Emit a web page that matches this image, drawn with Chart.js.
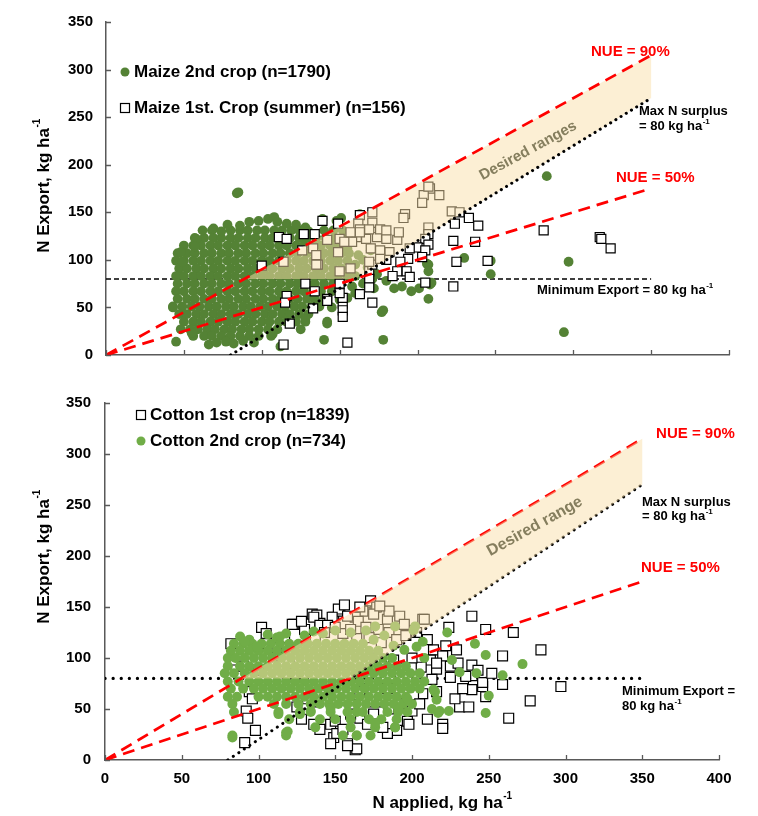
<!DOCTYPE html>
<html>
<head>
<meta charset="utf-8">
<script src="https://cdn.jsdelivr.net/npm/chart.js@4"></script>
<style>
body { margin: 0; background: #fff; }
#wrap { position: relative; width: 758px; height: 816px; }
canvas { position: absolute; left: 0; }
</style>
</head>
<body>
<div id="wrap">
  <canvas id="topChart" width="758" height="380" style="top:0"></canvas>
  <canvas id="bottomChart" width="758" height="436" style="top:380px"></canvas>
</div>
<script>
const xTickValues = [0, 50, 100, 150, 200, 250, 300, 350, 400];
const yTickValues = [0, 50, 100, 150, 200, 250, 300, 350];

// reference lines (N applied, N export)
const nue90 = [[0, 0], [350, 315]];
const nue50 = [[0, 0], [350, 175]];
const maxSurplus = [[80, 0], [350, 270]];
const minExport = [[0, 80], [350, 80]];
const desiredRange = [[88.9, 80], [160, 80], [350, 270], [350, 315], [88.9, 80]];

// Maize 2nd crop: dense cloud read row by row [N export, [N applied...]]
const maize2Rows = [
  [131, [68, 80, 86, 91, 97, 102, 108, 113, 119, 124, 140, 146, 152]],
  [123, [57, 63, 69, 74, 80, 85, 91, 96, 102, 107, 113, 118, 124, 129, 135, 141, 147, 152]],
  [115, [50, 56, 61, 67, 72, 78, 83, 89, 94, 100, 105, 111, 116, 122, 127, 133, 138, 144, 150]],
  [107, [46, 52, 57, 63, 68, 74, 79, 85, 90, 96, 101, 107, 112, 118, 123, 129, 134, 140, 145, 151, 156]],
  [99, [45, 50, 56, 61, 67, 72, 78, 83, 89, 94, 100, 105, 111, 116, 122, 127, 133, 138, 144, 149, 155]],
  [91, [47, 52, 58, 63, 69, 74, 80, 85, 91, 96, 102, 107, 113, 118, 124, 129, 135, 140, 146, 151, 157]],
  [83, [45, 50, 56, 61, 67, 72, 78, 83, 89, 94, 100, 105, 111, 116, 122, 127, 133, 138, 144, 149, 155, 160]],
  [75, [46, 52, 57, 63, 68, 74, 79, 85, 90, 96, 101, 107, 112, 118, 123, 129, 134, 140, 146, 151]],
  [67, [45, 50, 56, 61, 67, 72, 78, 83, 89, 94, 100, 105, 111, 116, 122, 127, 133, 138, 145]],
  [59, [46, 52, 57, 63, 68, 74, 79, 85, 90, 96, 101, 107, 112, 118, 123, 129, 134, 140]],
  [51, [43, 49, 55, 60, 66, 71, 77, 82, 88, 93, 99, 104, 110, 115, 121, 126, 132, 137]],
  [43, [47, 52, 58, 63, 69, 74, 80, 85, 91, 96, 102, 107, 113, 118, 124, 130]],
  [35, [50, 56, 61, 67, 72, 78, 83, 89, 94, 100, 105, 111, 116, 122, 128, 142]],
  [27, [48, 54, 59, 65, 70, 76, 81, 87, 92, 98, 104, 110, 125]],
  [20, [56, 63, 68, 74, 80, 86, 92, 98, 106]]
];
const maize2Extra = [
  [62, 131], [69, 133], [58, 122], [57, 114], [48, 108], [49, 98], [43, 50], [45, 14],
  [55, 23], [66, 11], [71, 13], [77, 14], [82, 12], [88, 15], [95, 13], [107, 22], [112, 9],
  [86, 136], [92, 140], [98, 141], [104, 143], [108, 145], [110, 140], [116, 138], [122, 137],
  [128, 134], [130, 130], [148, 141], [78, 137], [74, 130],
  [84, 170], [85, 171], [283, 188], [297, 98], [294, 24], [247, 99], [247, 85], [230, 102],
  [207, 95], [207, 59], [201, 70], [196, 67], [190, 72], [178, 47], [178, 16], [208, 74],
  [169, 88], [171, 80], [209, 76], [206, 96], [207, 88], [163, 148], [151, 144], [139, 143],
  [142, 33], [177, 45], [128, 38], [140, 16], [155, 60], [160, 65], [165, 75],
  [158, 72], [150, 58], [145, 50], [152, 45], [160, 95], [162, 105], [155, 112], [165, 100],
  [170, 110], [168, 92], [174, 85], [180, 78], [185, 70], [172, 70]
];

// Maize 1st crop (summer)
const maize1 = [
  [111, 124], [127, 127], [134, 127], [139, 141], [149, 138], [100, 94], [114, 98], [133, 112],
  [136, 95], [150, 122], [128, 75], [116, 62], [115, 55], [134, 67], [142, 59], [133, 49],
  [118, 33], [114, 11], [155, 13], [163, 147], [171, 150], [171, 139], [162, 138], [208, 175],
  [214, 168], [204, 168], [203, 160], [192, 148], [191, 144], [222, 151], [227, 150], [233, 144],
  [239, 136], [224, 138], [207, 134], [207, 127], [205, 122], [207, 116], [200, 113], [205, 110],
  [223, 120], [237, 119], [225, 98], [245, 99], [223, 72], [205, 76], [203, 103], [195, 112],
  [194, 101], [189, 98], [193, 88], [195, 82], [187, 88], [184, 83], [182, 108], [180, 100],
  [169, 88], [171, 95], [169, 80], [163, 64], [169, 71], [171, 55], [152, 54], [152, 47],
  [152, 40], [152, 60], [150, 65], [142, 57], [150, 75], [163, 132], [161, 124], [167, 122],
  [174, 124], [180, 122], [187, 121], [158, 119], [153, 119], [170, 112], [176, 110], [176, 101],
  [169, 98], [157, 91], [150, 88], [169, 132], [176, 132], [180, 131], [188, 129], [163, 129],
  [142, 121], [126, 110], [135, 105], [135, 95], [149, 108], [157, 129], [281, 131], [317, 124],
  [318, 122], [324, 112], [207, 177], [116, 122]
];

// Cotton 2nd crop: dense cloud rows [N export, [N applied...]]
const cotton2Rows = [
  [114, [84, 90, 96, 102, 108, 114, 120, 126, 132, 138, 144, 150, 156, 162, 168]],
  [107, [82, 88, 94, 100, 106, 112, 118, 124, 130, 136, 142, 148, 154, 160, 166, 172, 178]],
  [100, [80, 85, 91, 97, 103, 109, 115, 121, 127, 133, 139, 145, 151, 157, 163, 169, 175, 181, 187]],
  [92, [80, 88, 94, 100, 106, 112, 118, 124, 130, 136, 142, 148, 154, 160, 166, 172, 178, 184, 190, 196]],
  [85, [78, 84, 91, 97, 103, 109, 115, 121, 127, 133, 139, 145, 151, 157, 163, 169, 175, 181, 187, 193, 199, 205]],
  [77, [80, 87, 94, 100, 106, 112, 118, 124, 130, 136, 142, 148, 154, 160, 166, 172, 178, 184, 190, 196, 202, 208]],
  [70, [82, 90, 97, 103, 109, 115, 121, 127, 133, 139, 145, 151, 157, 163, 169, 175, 181, 187, 193, 199, 205]],
  [62, [80, 86, 100, 106, 112, 118, 124, 130, 136, 142, 148, 154, 160, 166, 172, 178, 184, 190, 196]],
  [55, [83, 110, 118, 126, 134, 140, 146, 152, 158, 164, 170, 176, 182, 188, 194, 200]],
  [47, [84, 113, 127, 134, 147, 158, 164, 168, 184, 191, 197]],
  [40, [120, 140, 150, 160, 172, 180, 190]],
  [32, [137, 160, 176, 189]],
  [24, [83, 118, 155, 164, 173]]
];
const cotton2Extra = [
  [88, 121], [94, 118], [106, 123], [112, 120], [118, 124], [130, 122], [136, 126], [142, 124],
  [150, 127], [160, 125], [175, 118], [182, 122], [188, 112], [170, 127],
  [83, 22], [91, 116], [114, 121], [99, 111], [113, 45], [119, 28], [223, 125], [241, 114],
  [248, 103], [272, 94], [259, 83], [250, 63], [248, 46], [242, 85], [231, 86], [226, 98],
  [214, 69], [216, 59], [218, 48], [213, 50], [224, 48], [207, 116], [202, 131], [189, 131],
  [176, 131], [195, 108], [203, 111], [208, 100], [118, 27], [164, 24], [189, 32], [176, 36],
  [134, 48], [127, 45], [147, 51], [191, 50], [197, 60], [217, 46], [215, 67], [201, 127]
];

// Cotton 1st crop
const cotton1 = [
  [82, 114], [102, 130], [105, 124], [105, 114], [123, 133], [135, 143], [138, 142], [140, 134],
  [149, 140], [153, 146], [173, 154], [176, 150], [83, 98], [92, 48], [93, 41], [98, 29],
  [91, 17], [94, 67], [96, 60], [122, 133], [152, 148], [148, 140], [136, 140], [140, 132],
  [173, 156], [177, 150], [168, 146], [163, 140], [184, 138], [192, 141], [207, 138], [199, 127],
  [164, 119], [155, 124], [158, 141], [165, 136], [170, 130], [178, 128], [185, 125], [190, 118],
  [196, 122], [180, 115], [172, 120], [160, 128], [145, 132], [130, 128], [156, 152], [166, 150],
  [175, 143], [185, 146], [195, 133], [203, 125], [150, 130], [143, 125], [137, 120], [128, 136],
  [117, 120], [110, 102], [112, 110], [95, 105], [90, 92], [100, 88], [120, 95], [239, 141],
  [224, 130], [248, 128], [266, 125], [284, 108], [259, 102], [239, 93], [297, 72], [259, 74],
  [277, 58], [263, 41], [231, 52], [237, 52], [220, 35], [220, 31], [197, 38], [225, 81],
  [229, 108], [214, 108], [208, 138], [179, 151], [240, 73], [246, 72], [248, 62], [246, 76],
  [216, 67], [216, 89], [225, 92], [212, 98], [220, 102], [190, 29], [184, 26], [181, 32],
  [207, 65], [216, 95], [239, 69], [206, 91], [213, 79], [168, 70], [173, 57], [166, 41],
  [179, 57], [184, 70], [201, 64], [136, 35], [147, 35], [149, 22], [147, 16], [158, 16],
  [163, 10], [171, 35], [198, 35], [138, 57], [162, 54], [166, 67], [150, 38], [151, 26],
  [164, 11], [158, 14], [140, 30], [128, 40], [125, 52], [132, 60], [155, 30], [160, 45],
  [175, 45], [185, 50], [192, 55], [200, 48], [205, 55], [210, 40], [228, 60], [233, 70],
  [235, 82], [243, 88], [252, 85], [230, 95], [222, 112], [210, 118], [200, 100], [195, 90],
  [186, 80], [180, 92], [188, 98], [176, 100]
];

const FONT = '"Liberation Sans", Arial, sans-serif';
Chart.defaults.font.family = FONT;

const toXY = arr => arr.map(([x, y]) => ({x, y}));
const fromRows = rows => rows.flatMap(([y, xs]) => xs.map(x => ({x, y})));

function supText(ctx, main, sup, x, y, size, align) {
  ctx.font = `bold ${size}px ${FONT}`;
  const w1 = ctx.measureText(main).width;
  const supSize = Math.round(size * 0.6);
  ctx.font = `bold ${supSize}px ${FONT}`;
  const w2 = sup ? ctx.measureText(sup).width : 0;
  const x0 = align === 'center' ? x - (w1 + w2) / 2 : x;
  ctx.textAlign = 'left';
  ctx.textBaseline = 'middle';
  ctx.font = `bold ${size}px ${FONT}`;
  ctx.fillText(main, x0, y);
  if (sup) {
    ctx.font = `bold ${supSize}px ${FONT}`;
    ctx.fillText(sup, x0 + w1 + 0.5, y - size * 0.38);
  }
}

const overlay = {
  id: 'overlay',
  afterDraw(chart, args, o) {
    const {ctx, chartArea: a} = chart;
    const xs = chart.scales.x, ys = chart.scales.y;
    ctx.save();
    // tick marks point inward
    ctx.strokeStyle = '#595959';
    ctx.lineWidth = 1.3;
    ctx.beginPath();
    xs.ticks.forEach(t => {
      const px = Math.round(xs.getPixelForValue(t.value)) + 0.5;
      ctx.moveTo(px, a.bottom);
      ctx.lineTo(px, a.bottom - 5);
    });
    ys.ticks.forEach(t => {
      const py = Math.round(ys.getPixelForValue(t.value)) + 0.5;
      ctx.moveTo(a.left, py);
      ctx.lineTo(a.left + 5, py);
    });
    ctx.stroke();

    o.labels.forEach(l => {
      ctx.fillStyle = l.color || '#000';
      const px = xs.getPixelForValue(l.x), py = ys.getPixelForValue(l.y);
      if (l.rotate) {
        ctx.save();
        ctx.translate(px, py);
        ctx.rotate(l.rotate * Math.PI / 180);
        supText(ctx, l.text, l.sup, 0, 0, l.size, 'center');
        ctx.restore();
      } else {
        supText(ctx, l.text, l.sup, px, py, l.size, 'left');
      }
    });

    o.legend.forEach(it => {
      if (it.marker === 'circle') {
        ctx.fillStyle = it.color;
        ctx.beginPath();
        ctx.arc(it.mx, it.y, 4.5, 0, Math.PI * 2);
        ctx.fill();
      } else {
        ctx.fillStyle = '#fff';
        ctx.strokeStyle = '#000';
        ctx.lineWidth = 1.2;
        ctx.fillRect(it.mx - 4.5, it.y - 4.5, 9, 9);
        ctx.strokeRect(it.mx - 4.5, it.y - 4.5, 9, 9);
      }
      ctx.fillStyle = '#000';
      supText(ctx, it.text, '', it.tx, it.y, 17, 'left');
    });

    ctx.fillStyle = '#000';
    ctx.save();
    ctx.translate(o.yTitle.x, o.yTitle.y);
    ctx.rotate(-Math.PI / 2);
    supText(ctx, 'N Export, kg ha', '-1', 0, 0, 17, 'center');
    ctx.restore();
    if (o.xTitle) supText(ctx, 'N applied, kg ha', '-1', o.xTitle.x, o.xTitle.y, 17, 'center');
    ctx.restore();
  }
};
Chart.register(overlay);

const RED = '#ff0000';
function lineDs(data, color, dash, width, order) {
  return {
    type: 'line', data: toXY(data), borderColor: color, borderDash: dash, borderWidth: width,
    borderCapStyle: dash[0] < 1 ? 'round' : 'butt', pointRadius: 0, fill: false, tension: 0, order
  };
}
function rangeDs(order) {
  return {
    type: 'line', data: toXY(desiredRange), fill: 'shape', backgroundColor: 'rgba(250,224,170,0.5)',
    borderColor: 'rgba(0,0,0,0)', borderWidth: 0, pointRadius: 0, tension: 0, order
  };
}

function scales(xLabels, xHeight, yWidth, yPad) {
  return {
    x: {
      type: 'linear', min: 0, max: 400,
      afterBuildTicks: s => { s.ticks = xTickValues.map(v => ({value: v})); },
      ticks: {display: xLabels, font: {size: 15, weight: 'bold'}, color: '#000', padding: 10},
      grid: {display: false, drawTicks: false},
      border: {color: '#595959', width: 1.5},
      afterFit: s => { s.height = xHeight; }
    },
    y: {
      type: 'linear', min: 0, max: 350,
      afterBuildTicks: s => { s.ticks = yTickValues.map(v => ({value: v})); },
      ticks: {font: {size: 15, weight: 'bold'}, color: '#000', padding: yPad},
      grid: {display: false, drawTicks: false},
      border: {color: '#595959', width: 1.5},
      afterFit: s => { s.width = yWidth; }
    }
  };
}

new Chart(document.getElementById('topChart'), {
  type: 'scatter',
  data: {
    datasets: [
      lineDs(nue90, RED, [12, 7], 2.7, 0),
      lineDs(nue50, RED, [12, 7], 2.7, 0),
      lineDs(maxSurplus, '#000', [0.1, 6], 3, 0),
      rangeDs(1),
      {type: 'scatter', data: toXY(maize1), pointStyle: 'rect', pointRadius: 6.4,
        backgroundColor: '#fff', borderColor: '#000', borderWidth: 1.2, order: 2},
      {type: 'scatter', data: fromRows(maize2Rows).concat(toXY(maize2Extra)), pointStyle: 'circle',
        pointRadius: 4.9, backgroundColor: '#548235', borderWidth: 0, order: 3},
      lineDs(minExport, '#000', [5, 3], 1.5, 4)
    ]
  },
  options: {
    responsive: false, animation: false, devicePixelRatio: 1, events: [],
    layout: {padding: {left: 0, right: 29, top: 15, bottom: 0}},
    scales: scales(false, 25, 106, 13),
    plugins: {
      legend: {display: false}, tooltip: {enabled: false},
      overlay: {
        labels: [
          {text: 'NUE = 90%', x: 311.4, y: 318.6, size: 15, color: RED},
          {text: 'NUE = 50%', x: 327.4, y: 185.8, size: 15, color: RED},
          {text: 'Max N surplus', x: 342.2, y: 255.8, size: 13},
          {text: '= 80 kg ha', sup: '-1', x: 342.2, y: 240.3, size: 13},
          {text: 'Minimum Export = 80 kg ha', sup: '-1', x: 276.7, y: 67.4, size: 13},
          {text: 'Desired ranges', x: 271, y: 214.6, size: 15, color: '#857e5e', rotate: -28.5}
        ],
        legend: [
          {marker: 'circle', color: '#548235', mx: 125, tx: 134, y: 72, text: 'Maize 2nd crop (n=1790)'},
          {marker: 'rect', mx: 125, tx: 134, y: 108, text: 'Maize 1st. Crop (summer) (n=156)'}
        ],
        yTitle: {x: 44, y: 186}
      }
    }
  }
});

new Chart(document.getElementById('bottomChart'), {
  type: 'scatter',
  data: {
    datasets: [
      rangeDs(0),
      lineDs(nue90, RED, [12, 7], 2.7, 1),
      lineDs(nue50, RED, [12, 7], 2.7, 1),
      lineDs(maxSurplus, '#000', [0.1, 6.5], 3, 1),
      {type: 'scatter', data: fromRows(cotton2Rows).concat(toXY(cotton2Extra)), pointStyle: 'circle',
        pointRadius: 5, backgroundColor: '#70ad47', borderWidth: 0, order: 2},
      {type: 'scatter', data: toXY(cotton1), pointStyle: 'rect', pointRadius: 7,
        backgroundColor: '#fff', borderColor: '#000', borderWidth: 1.2, order: 3},
      lineDs(minExport, '#000', [0.1, 8], 3.2, 4)
    ]
  },
  options: {
    responsive: false, animation: false, devicePixelRatio: 1, events: [],
    layout: {padding: {left: 0, right: 39, top: 13, bottom: 0}},
    scales: scales(true, 56, 105, 14),
    plugins: {
      legend: {display: false}, tooltip: {enabled: false},
      overlay: {
        labels: [
          {text: 'NUE = 90%', x: 359, y: 319.5, size: 15, color: RED},
          {text: 'NUE = 50%', x: 349.2, y: 188.8, size: 15, color: RED},
          {text: 'Max N surplus', x: 349.8, y: 252.7, size: 13},
          {text: '= 80 kg ha', sup: '-1', x: 349.8, y: 238.4, size: 13},
          {text: 'Minimum Export =', x: 336.8, y: 66.8, size: 13},
          {text: '80 kg ha', sup: '-1', x: 336.8, y: 52.5, size: 13},
          {text: 'Desired range', x: 280, y: 228.9, size: 16, color: '#857e5e', rotate: -29}
        ],
        legend: [
          {marker: 'rect', mx: 141, tx: 150, y: 415, text: 'Cotton 1st crop (n=1839)'},
          {marker: 'circle', color: '#70ad47', mx: 141, tx: 150, y: 441, text: 'Cotton 2nd crop (n=734)'}
        ].map(it => Object.assign({}, it, {y: it.y - 380})),
        yTitle: {x: 44, y: 177},
        xTitle: {x: 442, y: 423}
      }
    }
  }
});
</script>
</body>
</html>
